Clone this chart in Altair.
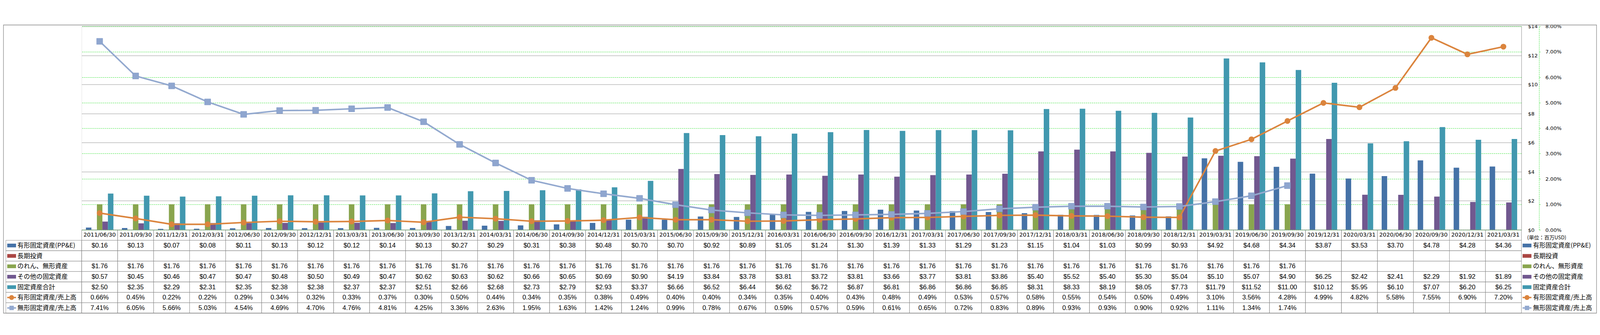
import altair as alt
import pandas as pd

dates = [
    "2011/06/30", "2011/09/30", "2011/12/31",
    "2012/03/31", "2012/06/30", "2012/09/30", "2012/12/31",
    "2013/03/31", "2013/06/30", "2013/09/30", "2013/12/31",
    "2014/03/31", "2014/06/30", "2014/09/30", "2014/12/31",
    "2015/03/31", "2015/06/30", "2015/09/30", "2015/12/31",
    "2016/03/31", "2016/06/30", "2016/09/30", "2016/12/31",
    "2017/03/31", "2017/06/30", "2017/09/30", "2017/12/31",
    "2018/03/31", "2018/06/30", "2018/09/30", "2018/12/31",
    "2019/03/31", "2019/06/30", "2019/09/30", "2019/12/31",
    "2020/03/31", "2020/06/30", "2020/09/30", "2020/12/31",
    "2021/03/31",
]

# 有形固定資産(PP&E)  (百万USD)
ppe = [0.16, 0.13, 0.07, 0.08, 0.11, 0.13, 0.12, 0.12, 0.14, 0.13,
       0.27, 0.29, 0.31, 0.38, 0.48, 0.70, 0.70, 0.92, 0.89, 1.05,
       1.24, 1.30, 1.39, 1.33, 1.29, 1.23, 1.15, 1.04, 1.03, 0.99,
       0.93, 4.92, 4.68, 4.34, 3.87, 3.53, 3.70, 4.78, 4.28, 4.36]
# 長期投資 (no values)
lt_invest = [None] * 40
# のれん、無形資産
goodwill = [1.76, 1.76, 1.76, 1.76, 1.76, 1.76, 1.76, 1.76, 1.76, 1.76,
            1.76, 1.76, 1.76, 1.76, 1.76, 1.76, 1.76, 1.76, 1.76, 1.76,
            1.76, 1.76, 1.76, 1.76, 1.76, 1.76, 1.76, 1.76, 1.76, 1.76,
            1.76, 1.76, 1.76, 1.76, None, None, None, None, None, None]
# その他の固定資産
other = [0.57, 0.45, 0.46, 0.47, 0.47, 0.48, 0.50, 0.49, 0.47, 0.62,
         0.63, 0.62, 0.66, 0.65, 0.69, 0.90, 4.19, 3.84, 3.78, 3.81,
         3.72, 3.81, 3.66, 3.77, 3.81, 3.86, 5.40, 5.52, 5.40, 5.30,
         5.04, 5.10, 5.07, 4.90, 6.25, 2.42, 2.41, 2.29, 1.92, 1.89]
# 固定資産合計
total = [2.50, 2.35, 2.29, 2.31, 2.35, 2.38, 2.38, 2.37, 2.37, 2.51,
         2.66, 2.68, 2.73, 2.79, 2.93, 3.37, 6.66, 6.52, 6.44, 6.62,
         6.72, 6.87, 6.81, 6.86, 6.86, 6.85, 8.31, 8.33, 8.19, 8.05,
         7.73, 11.79, 11.52, 11.00, 10.12, 5.95, 6.10, 7.07, 6.20, 6.25]
# 有形固定資産/売上高 (%)
ppe_ratio = [0.66, 0.45, 0.22, 0.22, 0.29, 0.34, 0.32, 0.33, 0.37, 0.30,
             0.50, 0.44, 0.34, 0.35, 0.38, 0.49, 0.40, 0.40, 0.34, 0.35,
             0.40, 0.43, 0.48, 0.49, 0.53, 0.57, 0.58, 0.55, 0.54, 0.50,
             0.49, 3.10, 3.56, 4.28, 4.99, 4.82, 5.58, 7.55, 6.90, 7.20]
# 無形固定資産/売上高 (%)
intang_ratio = [7.41, 6.05, 5.66, 5.03, 4.54, 4.69, 4.70, 4.76, 4.81, 4.25,
                3.36, 2.63, 1.95, 1.63, 1.42, 1.24, 0.99, 0.78, 0.67, 0.59,
                0.57, 0.59, 0.61, 0.65, 0.72, 0.83, 0.89, 0.93, 0.93, 0.90,
                0.92, 1.11, 1.34, 1.74, None, None, None, None, None, None]

usd_ticks = [0, 2, 4, 6, 8, 10, 12, 14]
pct_ticks = [0, 1, 2, 3, 4, 5, 6, 7, 8]

S_PPE = "有形固定資産(PP&E)"
S_LT = "長期投資"
S_GW = "のれん、無形資産"
S_OTH = "その他の固定資産"
S_TOT = "固定資産合計"
S_R1 = "有形固定資産/売上高"
S_R2 = "無形固定資産/売上高"
UNIT = "(単位：百万USD)"

bar_series = [S_PPE, S_LT, S_GW, S_OTH, S_TOT]
line_series = [S_R1, S_R2]
all_series = bar_series + line_series
colors = ["#4572A7", "#AA4643", "#89A54E", "#71588F", "#4198AF", "#DB843D", "#93A9CF"]
values = {S_PPE: ppe, S_LT: lt_invest, S_GW: goodwill, S_OTH: other,
          S_TOT: total, S_R1: ppe_ratio, S_R2: intang_ratio}

bar_df = pd.DataFrame([
    {"date": d, "series": s, "value": v}
    for s in bar_series for d, v in zip(dates, values[s]) if v is not None
])
line_df = pd.DataFrame([
    {"date": d, "series": s, "value": v}
    for s in line_series for d, v in zip(dates, values[s]) if v is not None
])

W = 4235      # plot width
H = 599       # chart (bars / lines) height
TH = 245      # data-table height
PAD_L = 231
PAD_T = 5
PAD_R = 222
GRAY = "#888888"
GREEN = "#22DD22"
JP = "Noto Sans CJK JP"
NARROW = "Liberation Sans Narrow, Liberation Sans, sans-serif"
AXF = "DejaVu Sans"

color_scale = alt.Scale(domain=all_series, range=colors)
x_scale = alt.Scale(domain=dates, paddingInner=0, paddingOuter=0)
x_enc = alt.X("date:N", sort=dates, scale=x_scale, axis=None)

usd_axis = alt.Axis(orient="right", values=usd_ticks,
                    labelExpr="'$' + datum.value", grid=True, gridColor=GRAY,
                    gridWidth=1, domain=True, domainColor=GRAY, ticks=False,
                    labelAlign="left", labelPadding=19, labelFont=AXF,
                    labelFontSize=15, labelColor="#000000", title=None)
pct_axis = alt.Axis(orient="right", offset=52, values=pct_ticks,
                    labelExpr="format(datum.value, '.2f') + '%'", grid=True,
                    gridColor=GREEN, gridDash=[4, 2], gridWidth=1, domain=True,
                    domainColor=GREEN, domainDash=[4, 2], ticks=True, tickSize=4,
                    tickColor=GREEN, labelPadding=14, labelAlign="left",
                    labelFont=AXF, labelFontSize=15, labelColor="#000000",
                    title=None)

bars = alt.Chart(bar_df).mark_bar().encode(
    x=x_enc,
    xOffset=alt.XOffset("series:N", sort=bar_series,
                        scale=alt.Scale(domain=bar_series, paddingInner=0, paddingOuter=0.77)),
    y=alt.Y("value:Q", scale=alt.Scale(domain=[0, 14], nice=False, range=[H, 0]), axis=usd_axis),
    color=alt.Color("series:N", scale=color_scale, legend=None),
)

pct_y = alt.Y("value:Q", scale=alt.Scale(domain=[0, 8], nice=False, range=[H, 0]), axis=pct_axis)

lines = alt.Chart(line_df).mark_line(strokeWidth=4.5).encode(
    x=x_enc, y=pct_y,
    color=alt.Color("series:N", scale=color_scale, legend=None),
    detail="series:N",
)
pts1 = alt.Chart(line_df[line_df["series"] == S_R1]).mark_point(
    filled=True, shape="circle", size=290, opacity=1, color=colors[5]).encode(x=x_enc, y=pct_y)
pts2 = alt.Chart(line_df[line_df["series"] == S_R2]).mark_point(
    filled=True, shape="square", size=320, opacity=1, color="#8FA6CF",
    stroke="#8099C6", strokeWidth=1).encode(x=x_enc, y=pct_y)

line_layer = alt.layer(lines, pts1, pts2)

# ---------- data table below the plot ----------
DATE_ROW = "_date"
rows = [DATE_ROW] + all_series
y_tab = alt.Y("row:N", sort=rows,
              scale=alt.Scale(domain=rows, range=[H, H + TH], paddingInner=0, paddingOuter=0),
              axis=None)

cell_df = pd.DataFrame([{"date": d, "row": r} for d in dates for r in rows])
date_df = pd.DataFrame([{"date": d, "row": DATE_ROW, "txt": d} for d in dates])
val_rows = []
for s in all_series:
    for d, v in zip(dates, values[s]):
        if v is None:
            continue
        txt = f"${v:.2f}" if s in bar_series else f"{v:.2f}%"
        val_rows.append({"date": d, "row": s, "txt": txt})
val_df = pd.DataFrame(val_rows)
head_df = pd.DataFrame([{"row": s, "series": s, "label": s} for s in all_series])
unit_df = pd.DataFrame([{"row": DATE_ROW, "label": UNIT}])
frame_df = pd.DataFrame([{"row": DATE_ROW}])

bar_key = "M-1,-0.42H1V0.42H-1Z"
circ_key = "M-1,-0.15H1V0.15H-1Z M0.55,0 A0.55,0.55 0 1 1 -0.55,0 A0.55,0.55 0 1 1 0.55,0 Z"
sq_key = "M-1,-0.15H1V0.15H-1Z M-0.5,-0.5H0.5V0.5H-0.5Z"

cells = alt.Chart(cell_df).mark_rect(fillOpacity=0, stroke=GRAY, strokeWidth=1).encode(x=x_enc, y=y_tab)
head_cells = alt.Chart(head_df).mark_rect(fillOpacity=0, stroke=GRAY, strokeWidth=1).encode(
    x=alt.value(-223), x2=alt.value(0), y=y_tab)
date_txt = alt.Chart(date_df).mark_text(font=AXF, fontSize=16.5, color="#000000").encode(
    x=x_enc, y=y_tab, text="txt:N")
val_txt = alt.Chart(val_df).mark_text(font=NARROW, fontSize=19, color="#000000").encode(
    x=x_enc, y=y_tab, text="txt:N")


def keys(xpos):
    out = []
    for subset, shp in ((bar_series, bar_key), ([S_R1], circ_key), ([S_R2], sq_key)):
        out.append(
            alt.Chart(head_df[head_df["series"].isin(subset)]).mark_point(
                filled=True, shape=shp, size=676, opacity=1, strokeWidth=0).encode(
                x=alt.value(xpos), y=y_tab,
                color=alt.Color("series:N", scale=color_scale, legend=None))
        )
    return out


def labels(xpos):
    return alt.Chart(head_df).mark_text(align="left", font=JP, fontSize=18.5, color="#000000").encode(
        x=alt.value(xpos), y=y_tab, text="label:N")


unit_txt = alt.Chart(unit_df).mark_text(align="left", font=JP, fontSize=15, dy=8, color="#000000").encode(
    x=alt.value(W + 17), y=y_tab, text="label:N")

# outer chart-area frame
frame = alt.Chart(frame_df).mark_rect(fillOpacity=0, stroke=GRAY, strokeWidth=1.5).encode(
    x=alt.value(-PAD_L + 1), x2=alt.value(W + PAD_R - 1), y=alt.value(-PAD_T + 1), y2=alt.value(H + TH))

table_layer = alt.layer(
    frame, cells, head_cells, date_txt, val_txt,
    *keys(-206), labels(-189), *keys(W + 16.5), labels(W + 34), unit_txt,
)

chart = alt.layer(bars, line_layer, table_layer).resolve_scale(
    y="independent"
).properties(
    width=W, height=H + TH,
    autosize=alt.AutoSizeParams(type="none"),
    padding={"left": PAD_L, "top": PAD_T, "right": PAD_R, "bottom": 1},
).configure_view(strokeWidth=0).configure(background="#FFFFFF")

chart.save("out.html", embed_options={"renderer": "svg", "actions": False})
